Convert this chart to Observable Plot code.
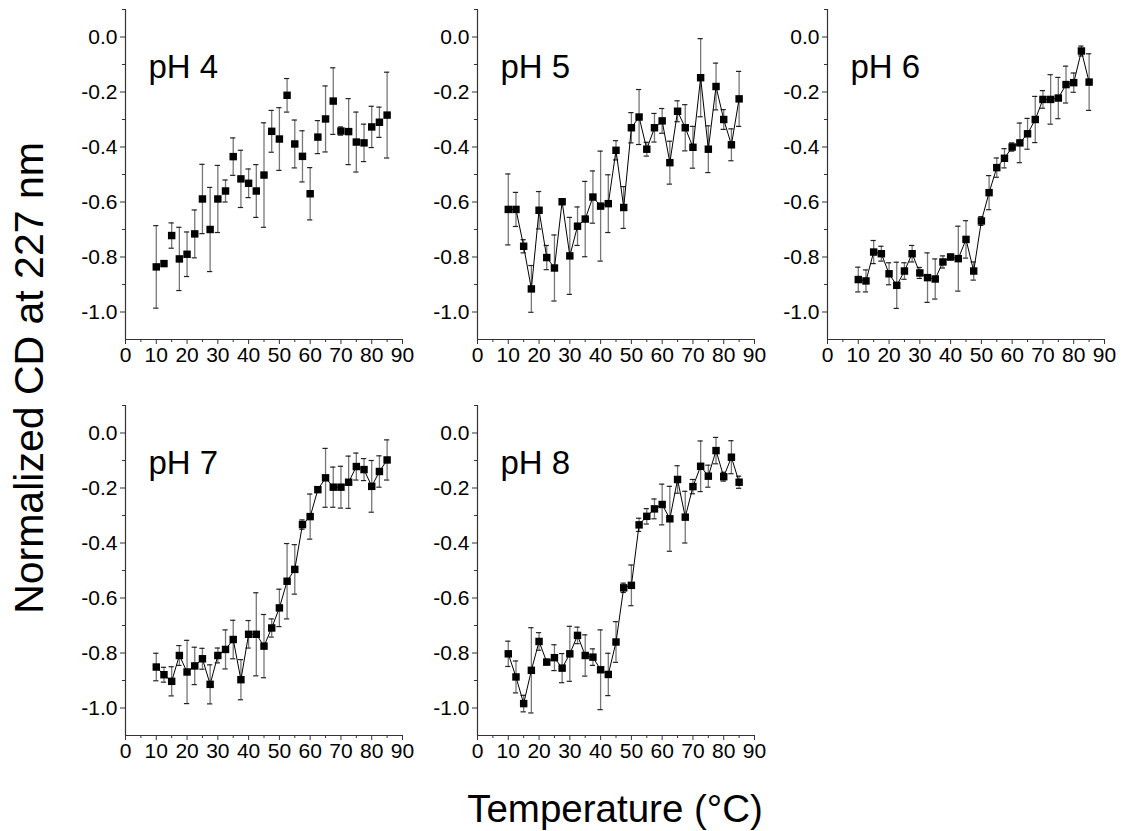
<!DOCTYPE html>
<html>
<head>
<meta charset="utf-8">
<script src="https://cdn.jsdelivr.net/npm/d3@7"></script>
<script src="https://cdn.jsdelivr.net/npm/@observablehq/plot@0.6"></script>
<style>
  body { margin: 0; background: #fff; font-family: "Liberation Sans", Arial, sans-serif; }
  #fig { position: relative; width: 1122px; height: 831px; overflow: hidden; background: #fff; }
  .panel { position: absolute; }
  .title { position: absolute; white-space: nowrap; line-height: 1; font-size: 38.5px; color: #000; }
</style>
</head>
<body>
<div id="fig"></div>
<script>
// ---------------- data ----------------
const temperature = [10, 12.5, 15, 17.5, 20, 22.5, 25, 27.5, 30, 32.5, 35, 37.5, 40, 42.5, 45, 47.5,
  50, 52.5, 55, 57.5, 60, 62.5, 65, 67.5, 70, 72.5, 75, 77.5, 80, 82.5, 85];

const panelLabels = ["pH 4", "pH 5", "pH 6", "pH 7", "pH 8"];

const cdPH4 = [-0.836, -0.824, -0.722, -0.807, -0.79, -0.716, -0.589, -0.70, -0.589, -0.56, -0.435, -0.516,
  -0.532, -0.56, -0.502, -0.343, -0.371, -0.212, -0.389, -0.434, -0.57, -0.364, -0.298, -0.233, -0.342,
  -0.344, -0.382, -0.385, -0.327, -0.31, -0.284];
const errPH4 = [0.15, 0.01, 0.046, 0.115, 0.081, 0.087, 0.126, 0.153, 0.122, 0.04, 0.068, 0.104, 0.052,
  0.096, 0.19, 0.076, 0.114, 0.061, 0.087, 0.093, 0.095, 0.06, 0.12, 0.121, 0.015, 0.12, 0.109, 0.068,
  0.075, 0.055, 0.156];

const cdPH5 = [-0.627, -0.627, -0.761, -0.916, -0.63, -0.802, -0.84, -0.599, -0.796, -0.688, -0.662, -0.582,
  -0.615, -0.606, -0.412, -0.62, -0.33, -0.291, -0.408, -0.33, -0.305, -0.457, -0.27, -0.33, -0.401,
  -0.148, -0.408, -0.18, -0.30, -0.392, -0.225];
const errPH5 = [0.129, 0.062, 0.024, 0.085, 0.068, 0.044, 0.12, 0.01, 0.14, 0.07, 0.137, 0.095, 0.2,
  0.105, 0.035, 0.076, 0.055, 0.1, 0.025, 0.052, 0.045, 0.078, 0.038, 0.084, 0.076, 0.142, 0.085, 0.085,
  0.036, 0.058, 0.1];

const cdPH6 = [-0.882, -0.887, -0.782, -0.788, -0.861, -0.903, -0.851, -0.788, -0.858, -0.875, -0.88, -0.818,
  -0.80, -0.806, -0.736, -0.851, -0.669, -0.566, -0.475, -0.441, -0.40, -0.385, -0.352, -0.30, -0.227,
  -0.227, -0.222, -0.173, -0.166, -0.051, -0.164];
const errPH6 = [0.045, 0.04, 0.042, 0.027, 0.04, 0.084, 0.03, 0.03, 0.02, 0.09, 0.073, 0.022, 0.01, 0.118,
  0.068, 0.033, 0.016, 0.062, 0.035, 0.035, 0.015, 0.072, 0.056, 0.084, 0.032, 0.09, 0.075, 0.067, 0.035,
  0.018, 0.103];

const cdPH7 = [-0.851, -0.879, -0.903, -0.809, -0.869, -0.847, -0.821, -0.914, -0.809, -0.787, -0.751, -0.897,
  -0.732, -0.732, -0.775, -0.709, -0.636, -0.539, -0.496, -0.333, -0.304, -0.206, -0.163, -0.197, -0.197,
  -0.179, -0.122, -0.133, -0.194, -0.14, -0.098];
const errPH7 = [0.05, 0.027, 0.053, 0.036, 0.115, 0.068, 0.038, 0.071, 0.027, 0.071, 0.07, 0.073, 0.05,
  0.151, 0.115, 0.033, 0.068, 0.137, 0.09, 0.017, 0.082, 0.008, 0.107, 0.073, 0.076, 0.095, 0.049, 0.04,
  0.094, 0.057, 0.073];

const cdPH8 = [-0.803, -0.887, -0.984, -0.863, -0.758, -0.833, -0.817, -0.855, -0.803, -0.736, -0.809, -0.815,
  -0.861, -0.878, -0.76, -0.563, -0.554, -0.334, -0.303, -0.276, -0.26, -0.312, -0.169, -0.306, -0.195,
  -0.121, -0.157, -0.064, -0.159, -0.088, -0.179];
const errPH8 = [0.046, 0.058, 0.03, 0.155, 0.032, 0.01, 0.047, 0.053, 0.1, 0.03, 0.075, 0.03, 0.145, 0.077,
  0.074, 0.017, 0.074, 0.024, 0.028, 0.036, 0.074, 0.118, 0.05, 0.094, 0.026, 0.092, 0.04, 0.048, 0.016,
  0.06, 0.022];

const seriesValues = [cdPH4, cdPH5, cdPH6, cdPH7, cdPH8];
const seriesErrors = [errPH4, errPH5, errPH6, errPH7, errPH8];
const connected = [false, true, true, true, true];

const xDomain = [0, 90];
const yDomain = [-1.1, 0.1];
const xTicks = [0, 10, 20, 30, 40, 50, 60, 70, 80, 90];
const xMinorTicks = [5, 15, 25, 35, 45, 55, 65, 75, 85];
const yTicks = [-1.0, -0.8, -0.6, -0.4, -0.2, 0.0];
const yMinorTicks = [-0.9, -0.7, -0.5, -0.3, -0.1, 0.1];

const xTitle = "Temperature (°C)";
const yTitle = "Normalized CD at 227 nm";

// ---------------- layout ----------------
const FONT = '"Liberation Sans", Arial, Helvetica, sans-serif';
const frameW = 277, frameH = 330;
const ML = 70, MR = 20, MT = 9, MB = 40;
const plotW = ML + frameW + MR, plotH = MT + frameH + MB;
const frameLefts = [125, 476.5, 827, 125, 476.5];
const frameTops = [9, 9, 9, 405, 405];
const capHalf = 0.85;

const fig = document.getElementById("fig");

function makePanel(i) {
  const data = temperature.map((t, k) => ({t, v: seriesValues[i][k], e: seriesErrors[i][k]}));
  const axisColor = "#333";
  return Plot.plot({
    width: plotW, height: plotH,
    marginLeft: ML, marginRight: MR, marginTop: MT, marginBottom: MB,
    style: {background: "transparent", overflow: "visible", fontFamily: FONT, fontSize: "21px", color: "#000"},
    x: {domain: xDomain, axis: null, label: null},
    y: {domain: yDomain, axis: null, label: null},
    marks: [
      // error bars
      Plot.ruleX(data, {x: "t", y1: d => d.v - d.e, y2: d => d.v + d.e, stroke: "#777", strokeWidth: 1.3}),
      Plot.ruleY(data, {y: d => d.v + d.e, x1: d => d.t - capHalf, x2: d => d.t + capHalf, stroke: "#222", strokeWidth: 1.2}),
      Plot.ruleY(data, {y: d => d.v - d.e, x1: d => d.t - capHalf, x2: d => d.t + capHalf, stroke: "#222", strokeWidth: 1.2}),
      connected[i] ? Plot.line(data, {x: "t", y: "v", stroke: "#000", strokeWidth: 1}) : null,
      Plot.dot(data, {x: "t", y: "v", symbol: "square", r: 4.2, fill: "#000", stroke: "none"}),
      // axes
      Plot.ruleX([xDomain[0]], {stroke: axisColor, strokeWidth: 1.2}),
      Plot.ruleY([yDomain[0]], {stroke: axisColor, strokeWidth: 1.2}),
      Plot.axisX({ticks: xTicks, tickSize: 5, tickPadding: 3, tickFormat: d => String(d), label: null, stroke: axisColor, fill: "#000"}),
      Plot.axisX({ticks: xMinorTicks, tickSize: 3, tickFormat: () => "", label: null, stroke: axisColor}),
      Plot.axisY({ticks: yTicks, tickSize: 5, tickPadding: 3, tickFormat: d => d.toFixed(1), label: null, stroke: axisColor, fill: "#000"}),
      Plot.axisY({ticks: yMinorTicks, tickSize: 3, tickFormat: () => "", label: null, stroke: axisColor}),
      // panel label
      Plot.text([panelLabels[i]], {text: d => d, frameAnchor: "top-left", dx: 23, dy: 68,
        textAnchor: "start", lineAnchor: "bottom", fontSize: 33, fill: "#000"})
    ]
  });
}

for (let i = 0; i < panelLabels.length; i++) {
  const div = document.createElement("div");
  div.className = "panel";
  div.style.left = (frameLefts[i] - ML) + "px";
  div.style.top = (frameTops[i] - MT) + "px";
  div.style.width = plotW + "px";
  div.style.height = plotH + "px";
  div.appendChild(makePanel(i));
  fig.appendChild(div);
}

const xt = document.createElement("div");
xt.className = "title";
xt.textContent = xTitle;
xt.style.left = "615px";
xt.style.top = "790px";
xt.style.transform = "translateX(-50%)";
fig.appendChild(xt);

const yt = document.createElement("div");
yt.className = "title";
yt.textContent = yTitle;
yt.style.fontSize = "41px";
yt.style.left = "29px";
yt.style.top = "378px";
yt.style.transform = "translate(-50%, -50%) rotate(-90deg)";
fig.appendChild(yt);
</script>
</body>
</html>
